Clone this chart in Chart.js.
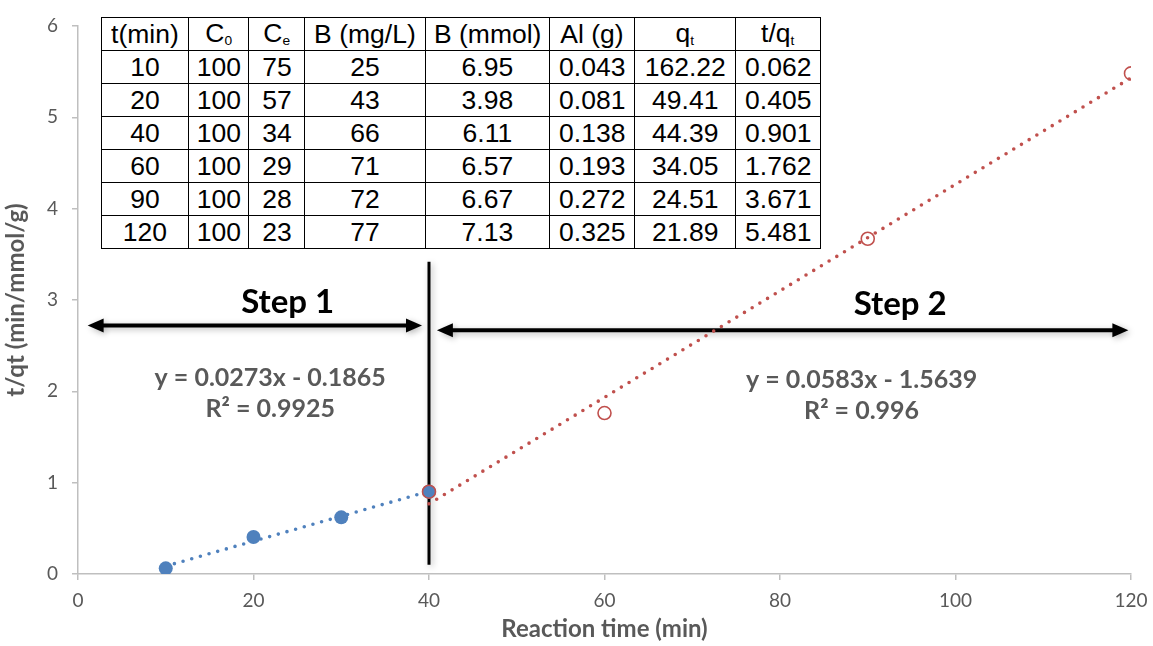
<!DOCTYPE html>
<html>
<head>
<meta charset="utf-8">
<title>Kinetics t/qt</title>
<script src="https://cdn.jsdelivr.net/npm/chart.js@4.4.0/dist/chart.umd.min.js"></script>
<style>
  html, body { margin: 0; padding: 0; background: #fff; }
  #wrap { position: relative; width: 1153px; height: 646px; }
  #kinetics { position: absolute; left: 0; top: 0; }
  #dataTable {
    position: absolute; left: 101px; top: 17px;
    border-collapse: collapse; table-layout: fixed;
    font-family: "Liberation Sans", Arial, sans-serif; font-size: 25px; color: #000;
    background: #fff;
  }
  #dataTable td { border: 1.5px solid #000; height: 32px; padding: 0; text-align: center; line-height: 1; }
  #dataTable td span { display: inline-block; transform: scaleX(1.06); }
  #dataTable sub { font-size: 13px; vertical-align: -3px; }
</style>
</head>
<body>
<div id="wrap">
  <canvas id="kinetics" width="1153" height="646"></canvas>
  <table id="dataTable">
    <colgroup>
      <col style="width:87px"><col style="width:60px"><col style="width:56px"><col style="width:121px">
      <col style="width:124px"><col style="width:85px"><col style="width:101px"><col style="width:85px">
    </colgroup>
    <tbody id="tableBody"></tbody>
  </table>
</div>
<script>
  'use strict';

  // table columns
  var tableHeads = ['t(min)', 'C<sub>0</sub>', 'C<sub>e</sub>', 'B (mg/L)', 'B (mmol)', 'Al (g)', 'q<sub>t</sub>', 't/q<sub>t</sub>'];
  var tMin    = [10, 20, 40, 60, 90, 120];
  var c0      = [100, 100, 100, 100, 100, 100];
  var ce      = [75, 57, 34, 29, 28, 23];
  var bMgL    = [25, 43, 66, 71, 72, 77];
  var bMmol   = ['6.95', '3.98', '6.11', '6.57', '6.67', '7.13'];
  var alG     = ['0.043', '0.081', '0.138', '0.193', '0.272', '0.325'];
  var qt      = ['162.22', '49.41', '44.39', '34.05', '24.51', '21.89'];
  var tOverQt = ['0.062', '0.405', '0.901', '1.762', '3.671', '5.481'];

  // plotted points
  var step1Time  = [10, 20, 30, 40];
  var step1Ratio = [0.062, 0.405, 0.62, 0.901];
  var step2Time  = [40, 60, 90, 120];
  var step2Ratio = [0.901, 1.762, 3.671, 5.481];

  // linear trendlines: [slope, intercept], R²
  var step1Fit = [0.0273, -0.1865];
  var step1R2  = '0.9925';
  var step2Fit = [0.0583, -1.5639];
  var step2R2  = '0.996';

  // axis ticks
  var xTicks = [0, 20, 40, 60, 80, 100, 120];
  var yTicks = [0, 1, 2, 3, 4, 5, 6];

  var BLUE = '#4f81bd';
  var RED  = '#c0504d';
  var GREY = '#595959';
  var LABEL_FONT = 'Lato, "Open Sans", sans-serif';

  // fill the table
  function cell(c) { return '<td><span>' + c + '</span></td>'; }
  var rowsHtml = '<tr>' + tableHeads.map(cell).join('') + '</tr>';
  for (var i = 0; i < tMin.length; i++) {
    var cells = [tMin[i], c0[i], ce[i], bMgL[i], bMmol[i], alG[i], qt[i], tOverQt[i]];
    rowsHtml += '<tr>' + cells.map(cell).join('') + '</tr>';
  }
  document.getElementById('tableBody').innerHTML = rowsHtml;

  function toPoints(xs, ys) {
    return xs.map(function (x, k) { return { x: x, y: ys[k] }; });
  }
  function fitLine(fit, xs) {
    var x0 = xs[0], x1 = xs[xs.length - 1];
    return [{ x: x0, y: fit[0] * x0 + fit[1] }, { x: x1, y: fit[0] * x1 + fit[1] }];
  }
  function fmtFit(fit) {
    var sign = fit[1] < 0 ? ' - ' : ' + ';
    return 'y = ' + fit[0] + 'x' + sign + Math.abs(fit[1]);
  }

  // divider, step arrows and equation labels, placed in axis units
  var dividerX  = 40;
  var dividerY  = [0.1, 3.42];
  var arrow1    = [1.1, 39.2, 2.72];
  var arrow2    = [40.9, 119.7, 2.67];
  var stepLabels = [['Step 1', 23.9, 2.97], ['Step 2', 93.7, 2.95]];
  var eqLabels = [
    [fmtFit(step1Fit), 'R² = ' + step1R2, 21.9, 2.15],
    [fmtFit(step2Fit), 'R² = ' + step2R2, 89.3, 2.12]
  ];

  function drawArrow(ctx, xa, xb, y) {
    var head = 16, half = 7;
    ctx.beginPath();
    ctx.moveTo(xa + head - 2, y);
    ctx.lineTo(xb - head + 2, y);
    ctx.stroke();
    ctx.beginPath();
    ctx.moveTo(xa, y); ctx.lineTo(xa + head, y - half); ctx.lineTo(xa + head, y + half); ctx.closePath();
    ctx.fill();
    ctx.beginPath();
    ctx.moveTo(xb, y); ctx.lineTo(xb - head, y - half); ctx.lineTo(xb - head, y + half); ctx.closePath();
    ctx.fill();
  }

  var stepsPlugin = {
    id: 'steps',
    beforeDatasetsDraw: function (chart) {
      var ctx = chart.ctx, xs = chart.scales.x, ys = chart.scales.y;
      ctx.save();
      ctx.shadowColor = 'rgba(0,0,0,0.28)';
      ctx.shadowBlur = 6;
      ctx.shadowOffsetX = 2;
      ctx.shadowOffsetY = 2;
      ctx.strokeStyle = '#000';
      ctx.fillStyle = '#000';

      // vertical divider at 40 min
      ctx.lineWidth = 3;
      ctx.beginPath();
      ctx.moveTo(xs.getPixelForValue(dividerX), ys.getPixelForValue(dividerY[0]));
      ctx.lineTo(xs.getPixelForValue(dividerX), ys.getPixelForValue(dividerY[1]));
      ctx.stroke();

      ctx.lineWidth = 4;
      [arrow1, arrow2].forEach(function (a) {
        drawArrow(ctx, xs.getPixelForValue(a[0]), xs.getPixelForValue(a[1]), ys.getPixelForValue(a[2]));
      });
      ctx.restore();

      ctx.save();
      ctx.textAlign = 'center';
      ctx.textBaseline = 'middle';
      ctx.fillStyle = '#000';
      ctx.font = 'bold 33px ' + LABEL_FONT;
      stepLabels.forEach(function (s) {
        ctx.fillText(s[0], xs.getPixelForValue(s[1]), ys.getPixelForValue(s[2]));
      });
      ctx.fillStyle = GREY;
      ctx.font = 'bold 25px ' + LABEL_FONT;
      eqLabels.forEach(function (e) {
        var px = xs.getPixelForValue(e[2]), py = ys.getPixelForValue(e[3]);
        ctx.fillText(e[0], px, py);
        ctx.fillText(e[1], px, py + 31);
      });
      ctx.restore();
    }
  };

  var ctx = document.getElementById('kinetics').getContext('2d');
  new Chart(ctx, {
    type: 'scatter',
    data: {
      datasets: [
        {
          label: 'Step 2',
          data: toPoints(step2Time, step2Ratio),
          pointStyle: 'circle',
          pointRadius: 6.5,
          pointBorderWidth: 1.6,
          pointBackgroundColor: 'rgba(0,0,0,0)',
          pointBorderColor: RED,
          order: 1
        },
        {
          label: 'Step 1',
          data: toPoints(step1Time, step1Ratio),
          pointRadius: 7,
          pointBorderWidth: 0,
          pointBackgroundColor: BLUE,
          pointBorderColor: BLUE,
          order: 2
        },
        {
          label: 'Step 2 fit',
          data: fitLine(step2Fit, step2Time),
          showLine: true,
          pointRadius: 0,
          borderColor: RED,
          borderWidth: 3.6,
          borderDash: [0, 9],
          borderCapStyle: 'round',
          order: 3
        },
        {
          label: 'Step 1 fit',
          data: fitLine(step1Fit, step1Time),
          showLine: true,
          pointRadius: 0,
          borderColor: BLUE,
          borderWidth: 3.6,
          borderDash: [0, 9],
          borderCapStyle: 'round',
          order: 4
        }
      ]
    },
    options: {
      responsive: false,
      animation: false,
      layout: { padding: { top: 26, right: 22, left: 0, bottom: 0 } },
      plugins: {
        legend: { display: false },
        tooltip: { enabled: false }
      },
      scales: {
        x: {
          type: 'linear',
          min: 0,
          max: 120,
          afterBuildTicks: function (s) { s.ticks = xTicks.map(function (v) { return { value: v }; }); },
          afterFit: function (s) { s.height = 72; s.paddingRight = 0; s.paddingLeft = 0; },
          grid: { display: true, drawOnChartArea: false, drawTicks: true, tickLength: 6, color: '#bfbfbf', lineWidth: 1.5 },
          border: { color: '#bfbfbf', width: 1.5 },
          ticks: { color: GREY, padding: 9, font: { family: LABEL_FONT, size: 19 } },
          title: {
            display: true,
            text: 'Reaction time (min)',
            color: GREY,
            padding: { top: 0, bottom: 2 },
            font: { family: LABEL_FONT, size: 24, weight: 'bold' }
          }
        },
        y: {
          type: 'linear',
          min: 0,
          max: 6,
          afterBuildTicks: function (s) { s.ticks = yTicks.map(function (v) { return { value: v }; }); },
          afterFit: function (s) { s.width = 78; },
          grid: { display: true, drawOnChartArea: false, drawTicks: true, tickLength: 6, color: '#bfbfbf', lineWidth: 1.5 },
          border: { color: '#bfbfbf', width: 1.5 },
          ticks: { color: GREY, padding: 14, font: { family: LABEL_FONT, size: 19 } },
          title: {
            display: true,
            text: 't/qt (min/mmol/g)',
            color: GREY,
            padding: { top: 2, bottom: 0 },
            font: { family: LABEL_FONT, size: 24, weight: 'bold' }
          }
        }
      }
    },
    plugins: [stepsPlugin]
  });
</script>
</body>
</html>
